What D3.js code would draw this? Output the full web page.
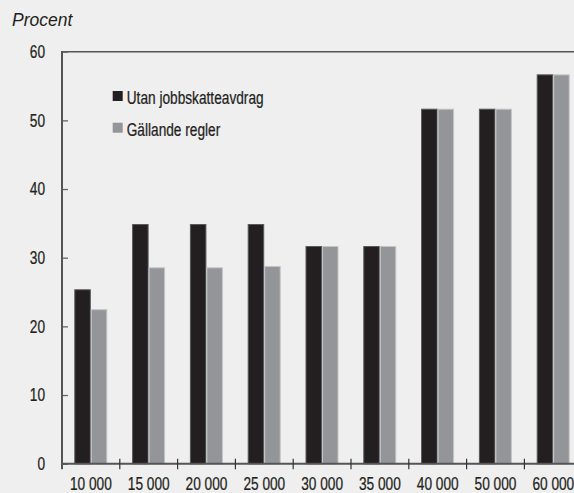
<!DOCTYPE html>
<html>
<head>
<meta charset="utf-8">
<script src="https://cdn.jsdelivr.net/npm/d3@7"></script>
<style>
  html, body { margin: 0; padding: 0; background: #efefef; }
  svg { display: block; }
  .lbl { font-family: "Liberation Sans", Arial, sans-serif; font-size: 17.9px; fill: #231f20; stroke: #231f20; stroke-width: 0.25px; }
</style>
</head>
<body>
<svg id="chart" width="574" height="493"></svg>
<script>
// Inkomstnivåer (kr/mån) och marginalskatt i procent
const categories = ["10 000", "15 000", "20 000", "25 000", "30 000", "35 000", "40 000", "50 000", "60 000"];
const seriesNames = ["Utan jobbskatteavdrag", "Gällande regler"];
const utanJobbskatteavdrag = [25.4, 34.9, 34.9, 34.9, 31.7, 31.7, 51.7, 51.7, 56.7];
const gallandeRegler = [22.5, 28.6, 28.6, 28.8, 31.7, 31.7, 51.7, 51.7, 56.7];
const yTicks = [0, 10, 20, 30, 40, 50, 60];
const colors = ["#231f20", "#939598"];
const strokes = ["#58585a", "#c4c5c7"];

const svg = d3.select("#chart");
const plotLeft = 62, plotTop = 51.7, plotBottom = 463.7, bandW = 57.8;
const narrow = 0.765; // horizontal squeeze for a condensed face

// Condensed label: text placed at (px, py), squeezed horizontally
function narrowText(sel, px, py, str, anchor, dy) {
  return sel.append("text")
    .attr("class", "lbl")
    .attr("transform", `translate(${px},${py}) scale(${narrow},1)`)
    .attr("text-anchor", anchor || "start")
    .attr("dy", dy || null)
    .text(str);
}

const x = d3.scaleBand().domain(categories).range([plotLeft, plotLeft + bandW * categories.length]).padding(0);
const x1 = d3.scaleBand().domain(seriesNames).range([12.3, 45.3]).padding(0);
const y = d3.scaleLinear().domain([0, 60]).range([plotBottom, plotTop]);

// Bars
const rows = categories.map((c, i) => ({ cat: c, vals: [utanJobbskatteavdrag[i], gallandeRegler[i]] }));
const g = svg.append("g");
rows.forEach(r => {
  r.vals.forEach((v, k) => {
    g.append("rect")
      .attr("x", x(r.cat) + x1(seriesNames[k]) + 0.5)
      .attr("y", y(v) + 0.5)
      .attr("width", x1.bandwidth() - 1)
      .attr("height", y(0) - y(v) - 0.5)
      .attr("fill", colors[k])
      .attr("stroke", strokes[k])
      .attr("stroke-width", 1);
  });
});

// Frame: top border
svg.append("line").attr("x1", plotLeft).attr("x2", 574).attr("y1", plotTop).attr("y2", plotTop)
  .attr("stroke", "#555").attr("stroke-width", 1.6);

// Y axis with inward ticks
const yAxis = d3.axisRight(y).tickValues(yTicks).tickSize(6).tickFormat("");
const ya = svg.append("g").attr("transform", `translate(${plotLeft},0)`).call(yAxis);
ya.select(".domain").remove();
ya.selectAll(".tick line").attr("stroke", "#666").attr("stroke-width", 1.3);
svg.append("line").attr("x1", plotLeft).attr("x2", plotLeft).attr("y1", plotTop - 0.8).attr("y2", plotBottom + 5.5)
  .attr("stroke", "#555").attr("stroke-width", 2);

const ylabs = svg.append("g");
yTicks.forEach(d => narrowText(ylabs, 45, y(d), d, "end", "0.36em"));

// X axis line with ticks at the category boundaries
svg.append("line").attr("x1", plotLeft).attr("x2", 574).attr("y1", plotBottom).attr("y2", plotBottom)
  .attr("stroke", "#555").attr("stroke-width", 2);
svg.selectAll(".xt").data(categories.slice(1)).enter().append("line")
  .attr("x1", d => x(d)).attr("x2", d => x(d))
  .attr("y1", plotBottom - 5).attr("y2", plotBottom + 5.5)
  .attr("stroke", "#333").attr("stroke-width", 1.2);

const xlabs = svg.append("g");
categories.forEach(c => narrowText(xlabs, x(c) + x.bandwidth() / 2, 490, c, "middle"));

// Legend
const legend = svg.append("g");
seriesNames.forEach((n, k) => {
  const ly = 91 + k * 31.7;
  legend.append("rect").attr("x", 112.7).attr("y", ly).attr("width", 10).attr("height", 10).attr("fill", colors[k]);
  narrowText(legend, 126.7, ly + 12.8, n, "start");
});

// Unit label
svg.append("text").attr("x", 12).attr("y", 26)
  .style("font-family", "'Liberation Sans', Arial, sans-serif")
  .style("font-style", "italic").style("font-size", "17.5px").attr("fill", "#231f20")
  .text("Procent");
</script>
</body>
</html>
